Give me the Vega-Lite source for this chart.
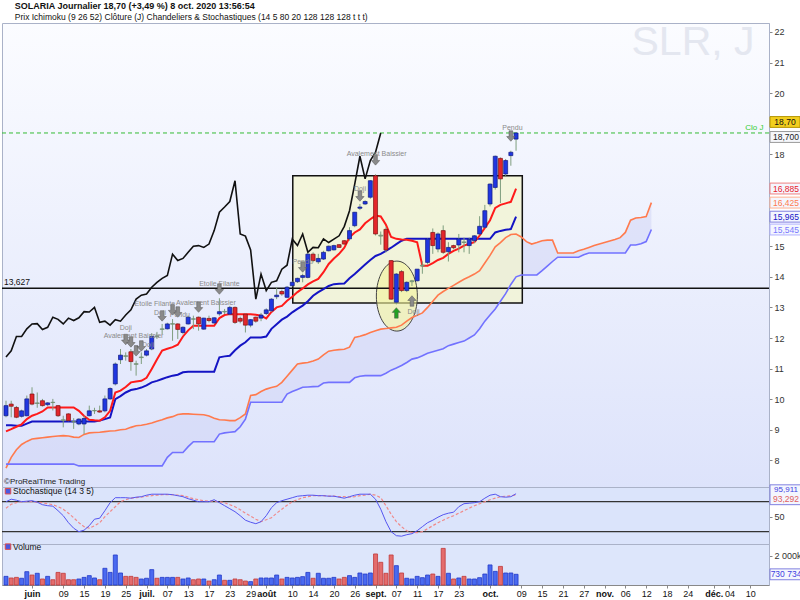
{
"$schema":"https://vega.github.io/schema/vega-lite/v6.json",
"padding":{"left":0,"top":1,"right":0,"bottom":0},
"background":"white",
"spacing":0,
"bounds":"flush",
"title":{"text":"SOLARIA Journalier 18,70 (+3,49 %) 8 oct. 2020 13:56:54","subtitle":"Prix    Ichimoku (9 26 52)    Clôture (J)    Chandeliers & Stochastiques (14 5 80 20 128 128 128 t t t)","anchor":"start","dx":14,"fontSize":9,"fontWeight":"bold","font":"Liberation Sans","color":"#111","subtitleFont":"Liberation Sans","subtitleFontSize":8.5,"subtitleColor":"#111","subtitlePadding":2,"offset":0},
"datasets":{
"c":[
{"i":-5,"o":9.46,"h":9.95,"l":9.41,"c":9.79,"v":590000,"t":8.95,"kj":9.15,"sk":80,"sd":67},
{"i":-4,"o":9.84,"h":9.95,"l":9.41,"c":9.77,"v":480000,"t":9.02,"kj":9.15,"sk":85,"sd":75},
{"i":-3,"o":9.73,"h":9.78,"l":9.38,"c":9.41,"v":520000,"t":9.10,"kj":9.13,"sk":83,"sd":78},
{"i":-2,"o":9.44,"h":9.66,"l":9.40,"c":9.62,"v":460000,"t":9.18,"kj":9.13,"sk":80,"sd":80},
{"i":-1,"o":9.46,"h":10.12,"l":9.44,"c":10.01,"v":910000,"t":9.35,"kj":9.20,"sk":81,"sd":80},
{"i":0,"o":10.17,"h":10.39,"l":9.80,"c":9.84,"v":680000,"t":9.46,"kj":9.27,"sk":82,"sd":80},
{"i":1,"o":9.86,"h":10.22,"l":9.72,"c":9.88,"v":800000,"t":9.52,"kj":9.27,"sk":79,"sd":79},
{"i":2,"o":9.95,"h":10.01,"l":9.76,"c":9.79,"v":410000,"t":9.60,"kj":9.27,"sk":74,"sd":78},
{"i":3,"o":9.82,"h":9.90,"l":9.78,"c":9.88,"v":590000,"t":9.73,"kj":9.27,"sk":72,"sd":76},
{"i":4,"o":9.90,"h":10.01,"l":9.63,"c":9.89,"v":360000,"t":9.73,"kj":9.27,"sk":71,"sd":74},
{"i":5,"o":9.79,"h":9.81,"l":9.42,"c":9.46,"v":860000,"t":9.73,"kj":9.27,"sk":62,"sd":70},
{"i":6,"o":9.33,"h":9.46,"l":9.08,"c":9.30,"v":800000,"t":9.73,"kj":9.27,"sk":52,"sd":65},
{"i":7,"o":9.52,"h":9.54,"l":9.28,"c":9.30,"v":360000,"t":9.73,"kj":9.27,"sk":38,"sd":57},
{"i":8,"o":9.27,"h":9.38,"l":9.03,"c":9.26,"v":360000,"t":9.73,"kj":9.27,"sk":27,"sd":48},
{"i":9,"o":9.19,"h":9.38,"l":9.15,"c":9.35,"v":410000,"t":9.62,"kj":9.27,"sk":20,"sd":38},
{"i":10,"o":9.19,"h":9.46,"l":8.86,"c":9.37,"v":520000,"t":9.45,"kj":9.27,"sk":23,"sd":30},
{"i":11,"o":9.46,"h":9.79,"l":9.44,"c":9.62,"v":640000,"t":9.33,"kj":9.27,"sk":32,"sd":27},
{"i":12,"o":9.62,"h":9.72,"l":9.52,"c":9.63,"v":480000,"t":9.31,"kj":9.27,"sk":45,"sd":32},
{"i":13,"o":9.62,"h":9.79,"l":9.56,"c":9.58,"v":360000,"t":9.30,"kj":9.30,"sk":47,"sd":38},
{"i":14,"o":9.62,"h":10.12,"l":9.57,"c":10.01,"v":1140000,"t":9.41,"kj":9.35,"sk":62,"sd":50},
{"i":15,"o":10.01,"h":10.39,"l":9.98,"c":10.35,"v":860000,"t":9.62,"kj":9.40,"sk":78,"sd":60},
{"i":16,"o":10.50,"h":11.20,"l":10.45,"c":11.15,"v":2050000,"t":10.22,"kj":10.00,"sk":88,"sd":70},
{"i":17,"o":11.29,"h":11.64,"l":11.15,"c":11.44,"v":820000,"t":10.28,"kj":10.10,"sk":88,"sd":80},
{"i":18,"o":11.42,"h":11.53,"l":11.26,"c":11.40,"v":590000,"t":10.40,"kj":10.22,"sk":88,"sd":84},
{"i":19,"o":11.55,"h":11.64,"l":10.93,"c":11.23,"v":590000,"t":10.55,"kj":10.30,"sk":87,"sd":87},
{"i":20,"o":11.16,"h":11.26,"l":10.77,"c":11.14,"v":520000,"t":10.58,"kj":10.33,"sk":89,"sd":88},
{"i":21,"o":11.36,"h":11.53,"l":11.15,"c":11.38,"v":410000,"t":10.60,"kj":10.38,"sk":90,"sd":89},
{"i":22,"o":11.44,"h":11.64,"l":11.40,"c":11.58,"v":460000,"t":10.70,"kj":10.45,"sk":93,"sd":91},
{"i":23,"o":11.64,"h":12.16,"l":11.60,"c":12.05,"v":1050000,"t":10.99,"kj":10.55,"sk":95,"sd":92},
{"i":24,"o":12.07,"h":12.20,"l":11.97,"c":12.05,"v":460000,"t":11.30,"kj":10.60,"sk":95,"sd":93},
{"i":25,"o":12.28,"h":12.46,"l":12.13,"c":12.30,"v":520000,"t":11.59,"kj":10.66,"sk":95,"sd":94},
{"i":26,"o":12.30,"h":12.50,"l":12.28,"c":12.46,"v":520000,"t":11.65,"kj":10.72,"sk":95,"sd":94},
{"i":27,"o":12.45,"h":12.62,"l":11.91,"c":12.47,"v":520000,"t":11.70,"kj":10.77,"sk":94,"sd":94},
{"i":28,"o":12.46,"h":12.48,"l":11.97,"c":12.28,"v":520000,"t":11.78,"kj":10.80,"sk":92,"sd":93},
{"i":29,"o":12.18,"h":12.38,"l":12.12,"c":12.35,"v":410000,"t":12.05,"kj":10.88,"sk":90,"sd":92},
{"i":30,"o":12.46,"h":12.73,"l":12.44,"c":12.68,"v":480000,"t":12.25,"kj":10.90,"sk":86,"sd":89},
{"i":31,"o":12.63,"h":12.73,"l":12.29,"c":12.61,"v":360000,"t":12.40,"kj":10.90,"sk":83,"sd":86},
{"i":32,"o":12.68,"h":12.70,"l":12.24,"c":12.46,"v":410000,"t":12.40,"kj":10.90,"sk":80,"sd":84},
{"i":33,"o":12.29,"h":12.66,"l":12.27,"c":12.65,"v":410000,"t":12.40,"kj":10.90,"sk":80,"sd":82},
{"i":34,"o":12.64,"h":12.73,"l":12.51,"c":12.57,"v":270000,"t":12.40,"kj":10.90,"sk":80,"sd":81},
{"i":35,"o":12.49,"h":12.68,"l":12.47,"c":12.66,"v":360000,"t":12.40,"kj":10.90,"sk":84,"sd":81},
{"i":36,"o":12.79,"h":13.30,"l":12.73,"c":12.86,"v":680000,"t":12.65,"kj":11.37,"sk":78,"sd":80},
{"i":37,"o":12.87,"h":12.95,"l":12.78,"c":12.85,"v":320000,"t":12.75,"kj":11.40,"sk":72,"sd":78},
{"i":38,"o":12.78,"h":13.05,"l":12.76,"c":13.00,"v":320000,"t":12.78,"kj":11.42,"sk":66,"sd":74},
{"i":39,"o":13.00,"h":13.03,"l":12.46,"c":12.51,"v":410000,"t":12.78,"kj":11.60,"sk":60,"sd":70},
{"i":40,"o":12.64,"h":12.70,"l":12.48,"c":12.55,"v":360000,"t":12.78,"kj":11.75,"sk":52,"sd":64},
{"i":41,"o":12.78,"h":12.80,"l":12.18,"c":12.42,"v":270000,"t":12.78,"kj":11.86,"sk":43,"sd":57},
{"i":42,"o":12.42,"h":12.62,"l":12.35,"c":12.60,"v":230000,"t":12.78,"kj":12.02,"sk":39,"sd":51},
{"i":43,"o":12.68,"h":12.70,"l":12.50,"c":12.55,"v":410000,"t":12.76,"kj":12.02,"sk":36,"sd":45},
{"i":44,"o":12.65,"h":12.82,"l":12.55,"c":12.75,"v":480000,"t":12.73,"kj":12.02,"sk":40,"sd":40},
{"i":45,"o":12.80,"h":12.97,"l":12.75,"c":12.92,"v":480000,"t":12.64,"kj":12.05,"sk":52,"sd":44},
{"i":46,"o":12.89,"h":13.30,"l":12.85,"c":13.27,"v":480000,"t":12.85,"kj":12.30,"sk":68,"sd":48},
{"i":47,"o":13.35,"h":13.66,"l":13.27,"c":13.40,"v":680000,"t":13.00,"kj":12.45,"sk":78,"sd":57},
{"i":48,"o":13.52,"h":13.58,"l":13.38,"c":13.44,"v":410000,"t":13.05,"kj":12.60,"sk":82,"sd":65},
{"i":49,"o":13.33,"h":13.70,"l":13.30,"c":13.66,"v":520000,"t":13.22,"kj":12.70,"sk":85,"sd":73},
{"i":50,"o":13.71,"h":13.85,"l":13.68,"c":13.82,"v":480000,"t":13.35,"kj":12.84,"sk":88,"sd":80},
{"i":51,"o":13.84,"h":13.97,"l":13.80,"c":13.95,"v":520000,"t":13.50,"kj":12.95,"sk":91,"sd":84},
{"i":52,"o":13.98,"h":14.10,"l":13.82,"c":14.04,"v":570000,"t":13.62,"kj":13.06,"sk":92,"sd":88},
{"i":53,"o":13.98,"h":14.78,"l":13.95,"c":14.74,"v":860000,"t":13.75,"kj":13.20,"sk":93,"sd":90},
{"i":54,"o":14.74,"h":14.80,"l":14.47,"c":14.53,"v":460000,"t":13.85,"kj":13.38,"sk":93,"sd":92},
{"i":55,"o":14.49,"h":14.75,"l":14.42,"c":14.60,"v":800000,"t":13.93,"kj":13.50,"sk":92,"sd":92},
{"i":56,"o":14.58,"h":14.85,"l":14.55,"c":14.80,"v":460000,"t":14.15,"kj":13.60,"sk":92,"sd":92},
{"i":57,"o":14.85,"h":15.02,"l":14.83,"c":15.00,"v":460000,"t":14.42,"kj":13.70,"sk":91,"sd":91},
{"i":58,"o":14.88,"h":15.05,"l":14.86,"c":15.02,"v":520000,"t":14.60,"kj":13.76,"sk":91,"sd":91},
{"i":59,"o":15.05,"h":15.07,"l":14.94,"c":14.96,"v":410000,"t":14.75,"kj":13.77,"sk":89,"sd":90},
{"i":60,"o":15.18,"h":15.20,"l":15.05,"c":15.07,"v":520000,"t":14.95,"kj":13.78,"sk":87,"sd":90},
{"i":61,"o":15.24,"h":15.62,"l":15.18,"c":15.51,"v":640000,"t":15.29,"kj":13.95,"sk":90,"sd":89},
{"i":62,"o":15.67,"h":16.12,"l":15.62,"c":16.11,"v":520000,"t":15.45,"kj":14.09,"sk":93,"sd":90},
{"i":63,"o":16.24,"h":16.38,"l":16.18,"c":16.28,"v":820000,"t":15.55,"kj":14.25,"sk":95,"sd":92},
{"i":64,"o":16.38,"h":16.50,"l":16.35,"c":16.46,"v":750000,"t":15.75,"kj":14.40,"sk":95,"sd":93},
{"i":65,"o":16.60,"h":17.16,"l":16.55,"c":17.14,"v":820000,"t":15.88,"kj":14.55,"sk":95,"sd":95},
{"i":66,"o":17.30,"h":17.35,"l":15.35,"c":15.40,"v":2120000,"t":16.00,"kj":14.68,"sk":85,"sd":93},
{"i":67,"o":15.36,"h":15.48,"l":15.05,"c":15.33,"v":1550000,"t":15.97,"kj":14.75,"sk":65,"sd":88},
{"i":68,"o":15.55,"h":15.62,"l":14.80,"c":14.88,"v":800000,"t":15.70,"kj":14.85,"sk":40,"sd":72},
{"i":69,"o":14.53,"h":14.55,"l":13.25,"c":13.27,"v":2050000,"t":15.30,"kj":14.95,"sk":20,"sd":55},
{"i":70,"o":13.17,"h":14.12,"l":13.10,"c":14.09,"v":1320000,"t":15.24,"kj":15.07,"sk":12,"sd":40},
{"i":71,"o":14.17,"h":14.22,"l":13.50,"c":13.55,"v":820000,"t":15.22,"kj":15.18,"sk":11,"sd":30},
{"i":72,"o":13.55,"h":13.85,"l":13.50,"c":13.82,"v":460000,"t":15.21,"kj":15.24,"sk":14,"sd":22},
{"i":73,"o":13.84,"h":13.90,"l":13.70,"c":13.87,"v":410000,"t":15.18,"kj":15.24,"sk":16,"sd":18},
{"i":74,"o":13.87,"h":14.25,"l":13.85,"c":14.25,"v":590000,"t":15.13,"kj":15.24,"sk":22,"sd":18},
{"i":75,"o":14.35,"h":14.50,"l":14.10,"c":14.38,"v":500000,"t":14.36,"kj":15.24,"sk":30,"sd":20},
{"i":76,"o":14.47,"h":15.25,"l":14.40,"c":15.23,"v":680000,"t":14.36,"kj":15.24,"sk":38,"sd":26},
{"i":77,"o":15.45,"h":15.58,"l":14.75,"c":15.02,"v":750000,"t":14.45,"kj":15.24,"sk":43,"sd":32},
{"i":78,"o":14.91,"h":15.45,"l":14.80,"c":15.40,"v":590000,"t":14.55,"kj":15.24,"sk":49,"sd":38},
{"i":79,"o":15.51,"h":15.68,"l":14.75,"c":14.80,"v":2500000,"t":14.62,"kj":15.24,"sk":54,"sd":43},
{"i":80,"o":14.82,"h":15.13,"l":14.50,"c":14.96,"v":800000,"t":14.75,"kj":15.24,"sk":57,"sd":48},
{"i":81,"o":15.02,"h":15.05,"l":14.90,"c":14.95,"v":410000,"t":14.85,"kj":15.24,"sk":59,"sd":52},
{"i":82,"o":15.04,"h":15.40,"l":14.80,"c":15.24,"v":480000,"t":14.92,"kj":15.24,"sk":70,"sd":57},
{"i":83,"o":15.14,"h":15.28,"l":14.80,"c":15.12,"v":590000,"t":15.02,"kj":15.24,"sk":76,"sd":62},
{"i":84,"o":15.02,"h":15.28,"l":14.75,"c":15.23,"v":410000,"t":15.08,"kj":15.24,"sk":77,"sd":67},
{"i":85,"o":15.18,"h":15.36,"l":15.10,"c":15.34,"v":410000,"t":15.13,"kj":15.24,"sk":78,"sd":72},
{"i":86,"o":15.40,"h":15.98,"l":15.38,"c":15.65,"v":500000,"t":15.35,"kj":15.24,"sk":80,"sd":76},
{"i":87,"o":15.62,"h":16.35,"l":15.60,"c":16.16,"v":750000,"t":15.60,"kj":15.24,"sk":87,"sd":80},
{"i":88,"o":16.38,"h":17.05,"l":16.30,"c":17.03,"v":1370000,"t":15.85,"kj":15.24,"sk":93,"sd":84},
{"i":89,"o":16.92,"h":17.96,"l":16.85,"c":17.94,"v":930000,"t":16.25,"kj":15.45,"sk":95,"sd":87},
{"i":90,"o":17.87,"h":17.90,"l":16.41,"c":17.20,"v":1270000,"t":16.35,"kj":15.50,"sk":90,"sd":90},
{"i":91,"o":17.36,"h":17.85,"l":17.30,"c":17.80,"v":820000,"t":16.40,"kj":15.54,"sk":89,"sd":91},
{"i":92,"o":17.96,"h":18.12,"l":17.63,"c":18.07,"v":820000,"t":16.45,"kj":15.56,"sk":90,"sd":92},
{"i":93,"o":18.50,"h":18.72,"l":18.12,"c":18.70,"v":730734,"t":16.885,"kj":15.965,"sk":95.911,"sd":93.292}
],
"sp":[
{"i":-5,"a":7.75,"b":7.88},{"i":-4,"a":8.10,"b":7.88},{"i":-3,"a":8.35,"b":7.88},{"i":-2,"a":8.52,"b":7.88},{"i":-1,"a":8.62,"b":7.88},
{"i":0,"a":8.70,"b":7.88},{"i":1,"a":8.72,"b":7.88},{"i":2,"a":8.74,"b":7.88},{"i":3,"a":8.76,"b":7.88},{"i":4,"a":8.78,"b":7.88},
{"i":5,"a":8.80,"b":7.88},{"i":6,"a":8.81,"b":7.88},{"i":7,"a":8.80,"b":7.88},{"i":8,"a":8.76,"b":7.88},{"i":9,"a":8.75,"b":7.82},
{"i":10,"a":8.85,"b":7.82},{"i":11,"a":8.90,"b":7.82},{"i":12,"a":8.91,"b":7.82},{"i":13,"a":8.92,"b":7.82},{"i":14,"a":8.94,"b":7.82},
{"i":15,"a":8.96,"b":7.82},{"i":16,"a":8.97,"b":7.82},{"i":17,"a":9.00,"b":7.82},{"i":18,"a":9.02,"b":7.82},{"i":19,"a":9.08,"b":7.82},
{"i":20,"a":9.13,"b":7.82},{"i":21,"a":9.15,"b":7.82},{"i":22,"a":9.18,"b":7.82},{"i":23,"a":9.22,"b":7.82},{"i":24,"a":9.28,"b":7.82},
{"i":25,"a":9.33,"b":7.82},{"i":26,"a":9.39,"b":8.10},{"i":27,"a":9.43,"b":8.26},{"i":28,"a":9.50,"b":8.26},{"i":29,"a":9.52,"b":8.26},
{"i":30,"a":9.52,"b":8.45},{"i":31,"a":9.51,"b":8.61},{"i":32,"a":9.50,"b":8.61},{"i":33,"a":9.49,"b":8.61},{"i":34,"a":9.45,"b":8.61},
{"i":35,"a":9.38,"b":8.61},{"i":36,"a":9.33,"b":8.86},{"i":37,"a":9.32,"b":8.90},{"i":38,"a":9.30,"b":8.92},{"i":39,"a":9.30,"b":8.94},
{"i":40,"a":9.40,"b":9.10},{"i":41,"a":9.52,"b":9.35},{"i":42,"a":10.12,"b":9.90},{"i":43,"a":10.15,"b":9.90},{"i":44,"a":10.25,"b":9.90},
{"i":45,"a":10.33,"b":9.90},{"i":46,"a":10.38,"b":9.90},{"i":47,"a":10.42,"b":9.90},{"i":48,"a":10.55,"b":9.90},{"i":49,"a":10.75,"b":10.17},
{"i":50,"a":10.95,"b":10.25},{"i":51,"a":11.15,"b":10.32},{"i":52,"a":11.18,"b":10.39},{"i":53,"a":11.20,"b":10.40},{"i":54,"a":11.25,"b":10.41},
{"i":55,"a":11.31,"b":10.42},{"i":56,"a":11.45,"b":10.53},{"i":57,"a":11.57,"b":10.55},{"i":58,"a":11.60,"b":10.55},{"i":59,"a":11.62,"b":10.55},
{"i":60,"a":11.63,"b":10.55},{"i":61,"a":11.70,"b":10.55},{"i":62,"a":12.02,"b":10.70},{"i":63,"a":12.06,"b":10.75},{"i":64,"a":12.11,"b":10.77},
{"i":65,"a":12.18,"b":10.77},{"i":66,"a":12.24,"b":10.77},{"i":67,"a":12.29,"b":10.77},{"i":68,"a":12.31,"b":10.85},{"i":69,"a":12.33,"b":10.95},
{"i":70,"a":12.35,"b":11.02},{"i":71,"a":12.42,"b":11.10},{"i":72,"a":12.55,"b":11.20},{"i":73,"a":12.67,"b":11.31},{"i":74,"a":12.74,"b":11.35},
{"i":75,"a":12.82,"b":11.42},{"i":76,"a":13.00,"b":11.50},{"i":77,"a":13.20,"b":11.55},{"i":78,"a":13.40,"b":11.60},{"i":79,"a":13.52,"b":11.65},
{"i":80,"a":13.62,"b":11.75},{"i":81,"a":13.72,"b":11.80},{"i":82,"a":13.82,"b":11.85},{"i":83,"a":13.92,"b":11.90},{"i":84,"a":14.00,"b":12.00},
{"i":85,"a":14.09,"b":12.10},{"i":86,"a":14.20,"b":12.30},{"i":87,"a":14.45,"b":12.55},{"i":88,"a":14.70,"b":12.75},{"i":89,"a":14.98,"b":12.95},
{"i":90,"a":15.12,"b":13.20},{"i":91,"a":15.28,"b":13.45},{"i":92,"a":15.38,"b":13.75},{"i":93,"a":15.40,"b":14.00},{"i":94,"a":15.30,"b":14.06},
{"i":95,"a":15.15,"b":14.06},{"i":96,"a":15.07,"b":14.06},{"i":97,"a":15.12,"b":14.06},{"i":98,"a":15.18,"b":14.20},{"i":99,"a":15.20,"b":14.35},
{"i":100,"a":15.20,"b":14.50},{"i":101,"a":14.78,"b":14.64},{"i":102,"a":14.78,"b":14.64},{"i":103,"a":14.78,"b":14.64},{"i":104,"a":14.78,"b":14.64},
{"i":105,"a":14.85,"b":14.64},{"i":106,"a":14.90,"b":14.72},{"i":107,"a":14.96,"b":14.78},{"i":108,"a":15.02,"b":14.78},{"i":109,"a":15.07,"b":14.78},
{"i":110,"a":15.12,"b":14.78},{"i":111,"a":15.17,"b":14.78},{"i":112,"a":15.22,"b":14.78},{"i":113,"a":15.28,"b":14.78},{"i":114,"a":15.45,"b":14.78},
{"i":115,"a":15.85,"b":15.04},{"i":116,"a":15.92,"b":15.04},{"i":117,"a":15.94,"b":15.08},{"i":118,"a":15.97,"b":15.15},{"i":119,"a":16.425,"b":15.545}
],
"ch":[
{"i":-5,"v":11.38},{"i":-4,"v":11.58},{"i":-3,"v":12.05},{"i":-2,"v":12.05},{"i":-1,"v":12.30},{"i":0,"v":12.46},{"i":1,"v":12.47},{"i":2,"v":12.28},{"i":3,"v":12.35},{"i":4,"v":12.68},
{"i":5,"v":12.61},{"i":6,"v":12.46},{"i":7,"v":12.65},{"i":8,"v":12.57},{"i":9,"v":12.66},{"i":10,"v":12.86},{"i":11,"v":12.85},{"i":12,"v":13.00},{"i":13,"v":12.51},{"i":14,"v":12.55},
{"i":15,"v":12.42},{"i":16,"v":12.60},{"i":17,"v":12.55},{"i":18,"v":12.75},{"i":19,"v":12.92},{"i":20,"v":13.27},{"i":21,"v":13.40},{"i":22,"v":13.44},{"i":23,"v":13.66},{"i":24,"v":13.82},
{"i":25,"v":13.95},{"i":26,"v":14.04},{"i":27,"v":14.74},{"i":28,"v":14.53},{"i":29,"v":14.60},{"i":30,"v":14.80},{"i":31,"v":15.00},{"i":32,"v":15.02},{"i":33,"v":14.96},{"i":34,"v":15.07},
{"i":35,"v":15.51},{"i":36,"v":16.11},{"i":37,"v":16.28},{"i":38,"v":16.46},{"i":39,"v":17.14},{"i":40,"v":15.40},{"i":41,"v":15.33},{"i":42,"v":14.88},{"i":43,"v":13.27},{"i":44,"v":14.09},
{"i":45,"v":13.55},{"i":46,"v":13.82},{"i":47,"v":13.87},{"i":48,"v":14.25},{"i":49,"v":14.38},{"i":50,"v":15.23},{"i":51,"v":15.02},{"i":52,"v":15.40},{"i":53,"v":14.80},{"i":54,"v":14.96},
{"i":55,"v":14.95},{"i":56,"v":15.24},{"i":57,"v":15.12},{"i":58,"v":15.23},{"i":59,"v":15.34},{"i":60,"v":15.65},{"i":61,"v":16.16},{"i":62,"v":17.03},{"i":63,"v":17.94},{"i":64,"v":17.20},
{"i":65,"v":17.80},{"i":66,"v":18.07},{"i":67,"v":18.70}
],
"ar":[
{"i":18,"p":11.95,"s":"down"},{"i":19,"p":11.87,"s":"down"},{"i":20,"p":11.58,"s":"down"},{"i":21,"p":11.74,"s":"down"},
{"i":25,"p":12.72,"s":"down"},{"i":27,"p":12.92,"s":"down"},{"i":28,"p":12.85,"s":"down"},{"i":32,"p":13.01,"s":"down"},
{"i":36,"p":13.60,"s":"down"},{"i":52,"p":14.32,"s":"down"},{"i":63,"p":16.64,"s":"down"},{"i":66,"p":17.82,"s":"down"},
{"i":70,"p":12.82,"s":"g"},{"i":73,"p":13.21,"s":"up"},{"i":92,"p":18.60,"s":"down"}
],
"tx":[
{"i":19.5,"p":12.05,"lab":"Avalement Baissier"},{"i":18,"p":12.33,"lab":"Doji"},{"i":22.3,"p":11.78,"lab":"Doji"},
{"i":23.6,"p":13.12,"lab":"Etoile Filante"},{"i":24.6,"p":12.82,"lab":"Doji"},{"i":33.4,"p":13.16,"lab":"Avalement Baissier"},
{"i":28.4,"p":12.76,"lab":"Pendu"},{"i":36,"p":13.75,"lab":"Etoile Filante"},{"i":52,"p":14.47,"lab":"Pendu"},
{"i":63,"p":16.88,"lab":"Doji"},{"i":66.2,"p":18.02,"lab":"Avalement Baissier"},{"i":73.3,"p":12.86,"lab":"Doji"},
{"i":92.3,"p":18.87,"lab":"Pendu"}
],
"bx":[{"x1":50.1,"x2":94.2,"y1":13.14,"y2":17.30}],
"el":[{"i":70.1,"p":13.37}],
"hl":[{"p":13.627,"lab":"13,627"}],
"last":[{"p":18.70,"lab":"18,70","lab2":"18,700","tag":"Clo J"}],
"bd":[{"p":16.885,"lab":"16,885","k":"t"},{"p":16.425,"lab":"16,425","k":"a"},{"p":15.965,"lab":"15,965","k":"kj"},{"p":15.545,"lab":"15,545","k":"b"}],
"sl":[{"v":80},{"v":20}],
"stl":[{"k":95.911,"d":93.292,"lk":"95,911","ld":"93,292"}],
"vl":[{"v":730734,"lab":"730 734"}]
},
"vconcat":[
{
"width":767,"height":464,
"view":{"fill":{"gradient":"linear","x1":0,"y1":0,"x2":0,"y2":1,"stops":[{"offset":0,"color":"#fbfcff"},{"offset":1,"color":"#dde3fb"}]},"stroke":"#aab2c8"},
"layer":[
{"data":{"name":"sp"},"mark":{"type":"area","color":"#cfd3f6","opacity":0.5},
 "encoding":{"x":{"field":"i","type":"quantitative","scale":{"domain":[-5.77,141.6],"nice":false,"zero":false,"padding":0},"axis":null},
  "y":{"field":"a","type":"quantitative","scale":{"domain":[7.131,22.294],"nice":false,"zero":false},
   "axis":{"orient":"right","values":[8,9,10,11,12,13,14,15,18,20,21,22],"title":null,"grid":false,"tickSize":3,"labelPadding":2,"labelFontSize":9,"labelColor":"#333","domainColor":"#aab2c8","tickColor":"#888"}},
  "y2":{"field":"b"}}},
{"data":{"values":[{}]},"mark":{"type":"text","fontSize":41,"color":"#e4e7f0","align":"center","baseline":"middle"},
 "encoding":{"x":{"datum":127,"type":"quantitative","scale":{"domain":[-5.77,141.6],"nice":false,"zero":false,"padding":0},"axis":null},
  "y":{"datum":21.65,"type":"quantitative","scale":{"domain":[7.131,22.294],"nice":false,"zero":false}},
  "text":{"value":"SLR, J"}}},
{"data":{"name":"bx"},"mark":{"type":"rect","fill":"#f3f5cc","fillOpacity":0.7,"stroke":"#111","strokeWidth":1.5},
 "encoding":{"x":{"field":"x1","type":"quantitative","scale":{"domain":[-5.77,141.6],"nice":false,"zero":false,"padding":0},"axis":null},"x2":{"field":"x2"},
  "y":{"field":"y1","type":"quantitative","scale":{"domain":[7.131,22.294],"nice":false,"zero":false}},"y2":{"field":"y2"}}},
{"data":{"name":"el"},"mark":{"type":"point","filled":true,"fill":"#f4f49a","fillOpacity":0.6,"stroke":"#444","strokeWidth":1,"strokeOpacity":1,"size":4900,
  "shape":"M 0.586 0 C 0.586 0.5523 0.3236 1 0 1 C -0.3236 1 -0.586 0.5523 -0.586 0 C -0.586 -0.5523 -0.3236 -1 0 -1 C 0.3236 -1 0.586 -0.5523 0.586 0 Z"},
 "encoding":{"x":{"field":"i","type":"quantitative","scale":{"domain":[-5.77,141.6],"nice":false,"zero":false,"padding":0},"axis":null},
  "y":{"field":"p","type":"quantitative","scale":{"domain":[7.131,22.294],"nice":false,"zero":false}}}},
{"data":{"name":"hl"},"mark":{"type":"rule","color":"#111","strokeWidth":1.5},
 "encoding":{"y":{"field":"p","type":"quantitative","scale":{"domain":[7.131,22.294],"nice":false,"zero":false}}}},
{"data":{"name":"last"},"mark":{"type":"rule","color":"#33bb33","strokeWidth":1,"strokeDash":[4,3]},
 "encoding":{"y":{"field":"p","type":"quantitative","scale":{"domain":[7.131,22.294],"nice":false,"zero":false}}}},
{"data":{"name":"sp"},"mark":{"type":"line","color":"#ff7a4d","strokeWidth":1.6},
 "encoding":{"x":{"field":"i","type":"quantitative","scale":{"domain":[-5.77,141.6],"nice":false,"zero":false,"padding":0},"axis":null},
  "y":{"field":"a","type":"quantitative","scale":{"domain":[7.131,22.294],"nice":false,"zero":false}}}},
{"data":{"name":"sp"},"mark":{"type":"line","color":"#7272ff","strokeWidth":1.6},
 "encoding":{"x":{"field":"i","type":"quantitative","scale":{"domain":[-5.77,141.6],"nice":false,"zero":false,"padding":0},"axis":null},
  "y":{"field":"b","type":"quantitative","scale":{"domain":[7.131,22.294],"nice":false,"zero":false}}}},
{"data":{"name":"ch"},"mark":{"type":"line","color":"#111","strokeWidth":1.6},
 "encoding":{"x":{"field":"i","type":"quantitative","scale":{"domain":[-5.77,141.6],"nice":false,"zero":false,"padding":0},"axis":null},
  "y":{"field":"v","type":"quantitative","scale":{"domain":[7.131,22.294],"nice":false,"zero":false}}}},
{"data":{"name":"c"},"mark":{"type":"line","color":"#1414c4","strokeWidth":2},
 "encoding":{"x":{"field":"i","type":"quantitative","scale":{"domain":[-5.77,141.6],"nice":false,"zero":false,"padding":0},"axis":null},
  "y":{"field":"kj","type":"quantitative","scale":{"domain":[7.131,22.294],"nice":false,"zero":false}}}},
{"data":{"name":"c"},"mark":{"type":"line","color":"#ff1a1a","strokeWidth":2},
 "encoding":{"x":{"field":"i","type":"quantitative","scale":{"domain":[-5.77,141.6],"nice":false,"zero":false,"padding":0},"axis":null},
  "y":{"field":"t","type":"quantitative","scale":{"domain":[7.131,22.294],"nice":false,"zero":false}}}},
{"data":{"name":"c"},"mark":{"type":"rule","color":"#7f9e7f","strokeWidth":1},
 "encoding":{"x":{"field":"i","type":"quantitative","scale":{"domain":[-5.77,141.6],"nice":false,"zero":false,"padding":0},"axis":null},
  "y":{"field":"l","type":"quantitative","scale":{"domain":[7.131,22.294],"nice":false,"zero":false}},"y2":{"field":"h"}}},
{"data":{"name":"c"},"mark":{"type":"bar","size":4,"strokeWidth":0.7},
 "encoding":{"x":{"field":"i","type":"quantitative","scale":{"domain":[-5.77,141.6],"nice":false,"zero":false,"padding":0},"axis":null},
  "y":{"field":"o","type":"quantitative","scale":{"domain":[7.131,22.294],"nice":false,"zero":false}},"y2":{"field":"c"},
  "fill":{"condition":[{"test":"abs(datum.c - datum.o) < 0.035","value":"#9db59d"},{"test":"datum.c >= datum.o","value":"#2036e0"}],"value":"#e3262b"},
  "stroke":{"condition":[{"test":"abs(datum.c - datum.o) < 0.035","value":"#6a8a6a"},{"test":"datum.c >= datum.o","value":"#101a80"}],"value":"#801010"}}},
{"data":{"name":"ar"},"mark":{"type":"point","filled":true,"size":110,"stroke":"#555","strokeWidth":0.5,"opacity":1},
 "encoding":{"x":{"field":"i","type":"quantitative","scale":{"domain":[-5.77,141.6],"nice":false,"zero":false,"padding":0},"axis":null},
  "y":{"field":"p","type":"quantitative","scale":{"domain":[7.131,22.294],"nice":false,"zero":false}},
  "shape":{"condition":{"test":"datum.s == 'down'","value":"M -0.35 -1 L 0.35 -1 L 0.35 0.1 L 0.8 0.1 L 0 1 L -0.8 0.1 L -0.35 0.1 Z"},"value":"M -0.35 1 L 0.35 1 L 0.35 -0.1 L 0.8 -0.1 L 0 -1 L -0.8 -0.1 L -0.35 -0.1 Z"},
  "fill":{"condition":{"test":"datum.s == 'g'","value":"#22a022"},"value":"#8a8a8a"}}},
{"data":{"name":"tx"},"mark":{"type":"text","fontSize":7,"color":"#8a8a8a","align":"center","baseline":"middle"},
 "encoding":{"x":{"field":"i","type":"quantitative","scale":{"domain":[-5.77,141.6],"nice":false,"zero":false,"padding":0},"axis":null},
  "y":{"field":"p","type":"quantitative","scale":{"domain":[7.131,22.294],"nice":false,"zero":false}},
  "text":{"field":"lab"}}},
{"data":{"name":"hl"},"mark":{"type":"text","fontSize":8.5,"color":"#111","align":"left","baseline":"bottom","dx":2,"dy":-1},
 "encoding":{"x":{"datum":-5.77,"type":"quantitative","scale":{"domain":[-5.77,141.6],"nice":false,"zero":false,"padding":0},"axis":null},
  "y":{"field":"p","type":"quantitative","scale":{"domain":[7.131,22.294],"nice":false,"zero":false}},
  "text":{"field":"lab"}}},
{"data":{"name":"last"},"mark":{"type":"text","fontSize":8,"color":"#33cc33","align":"center","baseline":"bottom","dy":-1},
 "encoding":{"x":{"datum":138.8,"type":"quantitative","scale":{"domain":[-5.77,141.6],"nice":false,"zero":false,"padding":0},"axis":null},
  "y":{"field":"p","type":"quantitative","scale":{"domain":[7.131,22.294],"nice":false,"zero":false}},
  "text":{"field":"tag"}}},
{"data":{"values":[{}]},"mark":{"type":"text","fontSize":8,"color":"#222","align":"left","baseline":"middle","dx":2},
 "encoding":{"x":{"datum":-5.77,"type":"quantitative","scale":{"domain":[-5.77,141.6],"nice":false,"zero":false,"padding":0},"axis":null},
  "y":{"datum":7.29,"type":"quantitative","scale":{"domain":[7.131,22.294],"nice":false,"zero":false}},
  "text":{"value":"©ProRealTime Trading"}}},
{"data":{"name":"last"},"mark":{"type":"point","filled":true,"fill":"#f3cf1e","stroke":"#b59500","strokeWidth":1,"opacity":1,"size":900,"xOffset":16,"yOffset":-11,"shape":"M -1 -0.36 L 1 -0.36 L 1 0.36 L -1 0.36 Z"},
 "encoding":{"x":{"datum":141.6,"type":"quantitative","scale":{"domain":[-5.77,141.6],"nice":false,"zero":false,"padding":0},"axis":null},
  "y":{"field":"p","type":"quantitative","scale":{"domain":[7.131,22.294],"nice":false,"zero":false}}}},
{"data":{"name":"last"},"mark":{"type":"text","fontSize":8.5,"color":"#111","align":"center","baseline":"middle","dx":16,"dy":-11},
 "encoding":{"x":{"datum":141.6,"type":"quantitative","scale":{"domain":[-5.77,141.6],"nice":false,"zero":false,"padding":0},"axis":null},
  "y":{"field":"p","type":"quantitative","scale":{"domain":[7.131,22.294],"nice":false,"zero":false}},
  "text":{"field":"lab"}}},
{"data":{"name":"last"},"mark":{"type":"point","filled":true,"fill":"#f6f7fb","stroke":"#999","strokeWidth":1,"opacity":1,"size":1024,"xOffset":17,"yOffset":4,"shape":"M -1 -0.34 L 1 -0.34 L 1 0.34 L -1 0.34 Z"},
 "encoding":{"x":{"datum":141.6,"type":"quantitative","scale":{"domain":[-5.77,141.6],"nice":false,"zero":false,"padding":0},"axis":null},
  "y":{"field":"p","type":"quantitative","scale":{"domain":[7.131,22.294],"nice":false,"zero":false}}}},
{"data":{"name":"last"},"mark":{"type":"text","fontSize":8.5,"color":"#222","align":"center","baseline":"middle","dx":17,"dy":4},
 "encoding":{"x":{"datum":141.6,"type":"quantitative","scale":{"domain":[-5.77,141.6],"nice":false,"zero":false,"padding":0},"axis":null},
  "y":{"field":"p","type":"quantitative","scale":{"domain":[7.131,22.294],"nice":false,"zero":false}},
  "text":{"field":"lab2"}}},
{"data":{"name":"bd"},"mark":{"type":"point","filled":true,"fill":"#f4f6fe","strokeWidth":1,"opacity":1,"size":1024,"xOffset":17,"shape":"M -1 -0.34 L 1 -0.34 L 1 0.34 L -1 0.34 Z"},
 "encoding":{"x":{"datum":141.6,"type":"quantitative","scale":{"domain":[-5.77,141.6],"nice":false,"zero":false,"padding":0},"axis":null},
  "y":{"field":"p","type":"quantitative","scale":{"domain":[7.131,22.294],"nice":false,"zero":false}},
  "stroke":{"field":"k","type":"nominal","scale":{"domain":["t","a","kj","b"],"range":["#f08080","#ffb090","#8080e0","#b0b0ff"]},"legend":null}}},
{"data":{"name":"bd"},"mark":{"type":"text","fontSize":8.5,"align":"center","baseline":"middle","dx":17},
 "encoding":{"x":{"datum":141.6,"type":"quantitative","scale":{"domain":[-5.77,141.6],"nice":false,"zero":false,"padding":0},"axis":null},
  "y":{"field":"p","type":"quantitative","scale":{"domain":[7.131,22.294],"nice":false,"zero":false}},
  "color":{"field":"k","type":"nominal","scale":{"domain":["t","a","kj","b"],"range":["#e8202a","#ff7a4d","#1515c8","#7878ff"]},"legend":null},
  "text":{"field":"lab"}}}
]
},
{
"width":767,"height":57,
"view":{"fill":"#dbe4fb","stroke":"#aab2c8"},
"layer":[
{"data":{"name":"sl"},"mark":{"type":"rule","color":"#333","strokeWidth":1.2},
 "encoding":{"y":{"field":"v","type":"quantitative","scale":{"domain":[-4.6,109.4],"nice":false,"zero":false},
  "axis":{"orient":"right","values":[50],"title":null,"grid":false,"tickSize":3,"labelPadding":2,"labelFontSize":9,"labelColor":"#333","domainColor":"#aab2c8","tickColor":"#888"}}}},
{"data":{"name":"c"},"mark":{"type":"line","color":"#f08a8a","strokeWidth":1.2,"strokeDash":[3,2]},
 "encoding":{"x":{"field":"i","type":"quantitative","scale":{"domain":[-5.77,141.6],"nice":false,"zero":false,"padding":0},"axis":null},
  "y":{"field":"sd","type":"quantitative","scale":{"domain":[-4.6,109.4],"nice":false,"zero":false}}}},
{"data":{"name":"c"},"mark":{"type":"line","color":"#5555f0","strokeWidth":1},
 "encoding":{"x":{"field":"i","type":"quantitative","scale":{"domain":[-5.77,141.6],"nice":false,"zero":false,"padding":0},"axis":null},
  "y":{"field":"sk","type":"quantitative","scale":{"domain":[-4.6,109.4],"nice":false,"zero":false}}}},
{"data":{"values":[{}]},"mark":{"type":"point","filled":true,"fill":"#4a5ae0","stroke":"#e04a4a","strokeWidth":1,"opacity":1,"shape":"square","size":30,"xOffset":6},
 "encoding":{"x":{"datum":-5.77,"type":"quantitative","scale":{"domain":[-5.77,141.6],"nice":false,"zero":false,"padding":0},"axis":null},
  "y":{"datum":101,"type":"quantitative","scale":{"domain":[-4.6,109.4],"nice":false,"zero":false}}}},
{"data":{"values":[{}]},"mark":{"type":"text","fontSize":8.5,"color":"#111","align":"left","baseline":"middle","dx":11},
 "encoding":{"x":{"datum":-5.77,"type":"quantitative","scale":{"domain":[-5.77,141.6],"nice":false,"zero":false,"padding":0},"axis":null},
  "y":{"datum":101,"type":"quantitative","scale":{"domain":[-4.6,109.4],"nice":false,"zero":false}},
  "text":{"value":"Stochastique (14 3 5)"}}},
{"data":{"name":"stl"},"mark":{"type":"point","filled":true,"fill":"#f4f6fe","stroke":"#8080e0","strokeWidth":1,"opacity":1,"size":1024,"xOffset":17,"yOffset":1,"shape":"M -1 -0.62 L 1 -0.62 L 1 0.62 L -1 0.62 Z"},
 "encoding":{"x":{"datum":141.6,"type":"quantitative","scale":{"domain":[-5.77,141.6],"nice":false,"zero":false,"padding":0},"axis":null},
  "y":{"field":"k","type":"quantitative","scale":{"domain":[-4.6,109.4],"nice":false,"zero":false}}}},
{"data":{"name":"stl"},"mark":{"type":"text","fontSize":8,"color":"#4040e0","align":"center","baseline":"middle","dx":17,"dy":-4},
 "encoding":{"x":{"datum":141.6,"type":"quantitative","scale":{"domain":[-5.77,141.6],"nice":false,"zero":false,"padding":0},"axis":null},
  "y":{"field":"k","type":"quantitative","scale":{"domain":[-4.6,109.4],"nice":false,"zero":false}},
  "text":{"field":"lk"}}},
{"data":{"name":"stl"},"mark":{"type":"text","fontSize":8.5,"color":"#e06060","align":"center","baseline":"middle","dx":17,"dy":5},
 "encoding":{"x":{"datum":141.6,"type":"quantitative","scale":{"domain":[-5.77,141.6],"nice":false,"zero":false,"padding":0},"axis":null},
  "y":{"field":"k","type":"quantitative","scale":{"domain":[-4.6,109.4],"nice":false,"zero":false}},
  "text":{"field":"ld"}}}
]
},
{
"width":767,"height":41,
"view":{"fill":"#dde6fb","stroke":"#aab2c8"},
"layer":[
{"data":{"name":"c"},"mark":{"type":"bar","size":4,"strokeWidth":0.8},
 "encoding":{"x":{"field":"i","type":"quantitative","scale":{"domain":[-5.77,141.6],"nice":false,"zero":false,"padding":0},
   "axis":{"orient":"bottom","title":null,"grid":false,"tickSize":3,"labelPadding":1,"labelFontSize":9,"labelColor":"#111","domainColor":"#888","tickColor":"#888","labelFlush":false,"labelOverlap":false,"labelBound":false,
    "values":[0,6,10,14,18,22,26,30,34,38,42,45,50,54,58,62,66,70,74,78,82,88,94,98,102,106,110,114,118,122,126,131,134,138],
    "labelExpr":"['juin','09','15','19','25','juil.','07','13','17','23','29','août','10','14','20','26','sept.','07','11','17','23','oct.','09','15','21','27','nov.','06','12','18','24','déc.','04','10'][indexof([0,6,10,14,18,22,26,30,34,38,42,45,50,54,58,62,66,70,74,78,82,88,94,98,102,106,110,114,118,122,126,131,134,138], datum.value)]",
    "labelFontWeight":{"condition":{"test":"indexof([0,22,45,66,88,110,131], datum.value) >= 0","value":"bold"},"value":"normal"}}},
  "y":{"field":"v","type":"quantitative","scale":{"domain":[0,2800000],"nice":false,"zero":false},
   "axis":{"orient":"right","values":[2000000],"labelExpr":"'2 000k'","title":null,"grid":false,"tickSize":3,"labelPadding":2,"labelFontSize":9,"labelColor":"#333","domainColor":"#aab2c8","tickColor":"#888"}},
  "fill":{"condition":{"test":"datum.c >= datum.o","value":"#4a6af0"},"value":"#e46c6c"},
  "stroke":{"condition":{"test":"datum.c >= datum.o","value":"#2238c8"},"value":"#c03a3a"}}},
{"data":{"values":[{}]},"mark":{"type":"point","filled":true,"fill":"#4a5ae0","stroke":"#e04a4a","strokeWidth":1,"opacity":1,"shape":"square","size":30,"xOffset":6},
 "encoding":{"x":{"datum":-5.77,"type":"quantitative","scale":{"domain":[-5.77,141.6],"nice":false,"zero":false,"padding":0},
   "axis":{"orient":"bottom","title":null,"grid":false,"tickSize":3,"labelPadding":1,"labelFontSize":9,"labelColor":"#111","domainColor":"#888","tickColor":"#888","labelFlush":false,"labelOverlap":false,"labelBound":false,
    "values":[0,6,10,14,18,22,26,30,34,38,42,45,50,54,58,62,66,70,74,78,82,88,94,98,102,106,110,114,118,122,126,131,134,138],
    "labelExpr":"['juin','09','15','19','25','juil.','07','13','17','23','29','août','10','14','20','26','sept.','07','11','17','23','oct.','09','15','21','27','nov.','06','12','18','24','déc.','04','10'][indexof([0,6,10,14,18,22,26,30,34,38,42,45,50,54,58,62,66,70,74,78,82,88,94,98,102,106,110,114,118,122,126,131,134,138], datum.value)]",
    "labelFontWeight":{"condition":{"test":"indexof([0,22,45,66,88,110,131], datum.value) >= 0","value":"bold"},"value":"normal"}}},
  "y":{"datum":2620000,"type":"quantitative","scale":{"domain":[0,2800000],"nice":false,"zero":false}}}},
{"data":{"values":[{}]},"mark":{"type":"text","fontSize":8.5,"color":"#111","align":"left","baseline":"middle","dx":11},
 "encoding":{"x":{"datum":-5.77,"type":"quantitative","scale":{"domain":[-5.77,141.6],"nice":false,"zero":false,"padding":0},
   "axis":{"orient":"bottom","title":null,"grid":false,"tickSize":3,"labelPadding":1,"labelFontSize":9,"labelColor":"#111","domainColor":"#888","tickColor":"#888","labelFlush":false,"labelOverlap":false,"labelBound":false,
    "values":[0,6,10,14,18,22,26,30,34,38,42,45,50,54,58,62,66,70,74,78,82,88,94,98,102,106,110,114,118,122,126,131,134,138],
    "labelExpr":"['juin','09','15','19','25','juil.','07','13','17','23','29','août','10','14','20','26','sept.','07','11','17','23','oct.','09','15','21','27','nov.','06','12','18','24','déc.','04','10'][indexof([0,6,10,14,18,22,26,30,34,38,42,45,50,54,58,62,66,70,74,78,82,88,94,98,102,106,110,114,118,122,126,131,134,138], datum.value)]",
    "labelFontWeight":{"condition":{"test":"indexof([0,22,45,66,88,110,131], datum.value) >= 0","value":"bold"},"value":"normal"}}},
  "y":{"datum":2620000,"type":"quantitative","scale":{"domain":[0,2800000],"nice":false,"zero":false}},
  "text":{"value":"Volume"}}},
{"data":{"name":"vl"},"mark":{"type":"point","filled":true,"fill":"#f4f6fe","stroke":"#8080e0","strokeWidth":1,"opacity":1,"size":1024,"xOffset":17,"shape":"M -1 -0.34 L 1 -0.34 L 1 0.34 L -1 0.34 Z"},
 "encoding":{"x":{"datum":141.6,"type":"quantitative","scale":{"domain":[-5.77,141.6],"nice":false,"zero":false,"padding":0},
   "axis":{"orient":"bottom","title":null,"grid":false,"tickSize":3,"labelPadding":1,"labelFontSize":9,"labelColor":"#111","domainColor":"#888","tickColor":"#888","labelFlush":false,"labelOverlap":false,"labelBound":false,
    "values":[0,6,10,14,18,22,26,30,34,38,42,45,50,54,58,62,66,70,74,78,82,88,94,98,102,106,110,114,118,122,126,131,134,138],
    "labelExpr":"['juin','09','15','19','25','juil.','07','13','17','23','29','août','10','14','20','26','sept.','07','11','17','23','oct.','09','15','21','27','nov.','06','12','18','24','déc.','04','10'][indexof([0,6,10,14,18,22,26,30,34,38,42,45,50,54,58,62,66,70,74,78,82,88,94,98,102,106,110,114,118,122,126,131,134,138], datum.value)]",
    "labelFontWeight":{"condition":{"test":"indexof([0,22,45,66,88,110,131], datum.value) >= 0","value":"bold"},"value":"normal"}}},
  "y":{"field":"v","type":"quantitative","scale":{"domain":[0,2800000],"nice":false,"zero":false}}}},
{"data":{"name":"vl"},"mark":{"type":"text","fontSize":8.5,"color":"#4040e0","align":"center","baseline":"middle","dx":17},
 "encoding":{"x":{"datum":141.6,"type":"quantitative","scale":{"domain":[-5.77,141.6],"nice":false,"zero":false,"padding":0},
   "axis":{"orient":"bottom","title":null,"grid":false,"tickSize":3,"labelPadding":1,"labelFontSize":9,"labelColor":"#111","domainColor":"#888","tickColor":"#888","labelFlush":false,"labelOverlap":false,"labelBound":false,
    "values":[0,6,10,14,18,22,26,30,34,38,42,45,50,54,58,62,66,70,74,78,82,88,94,98,102,106,110,114,118,122,126,131,134,138],
    "labelExpr":"['juin','09','15','19','25','juil.','07','13','17','23','29','août','10','14','20','26','sept.','07','11','17','23','oct.','09','15','21','27','nov.','06','12','18','24','déc.','04','10'][indexof([0,6,10,14,18,22,26,30,34,38,42,45,50,54,58,62,66,70,74,78,82,88,94,98,102,106,110,114,118,122,126,131,134,138], datum.value)]",
    "labelFontWeight":{"condition":{"test":"indexof([0,22,45,66,88,110,131], datum.value) >= 0","value":"bold"},"value":"normal"}}},
  "y":{"field":"v","type":"quantitative","scale":{"domain":[0,2800000],"nice":false,"zero":false}},
  "text":{"field":"lab"}}}
]
}
],
"config":{"font":"Liberation Sans","view":{"stroke":"#aab2c8"},"axis":{"labelFont":"Liberation Sans"},"axisX":{"labelOverlap":false},"text":{"font":"Liberation Sans"}}
}
